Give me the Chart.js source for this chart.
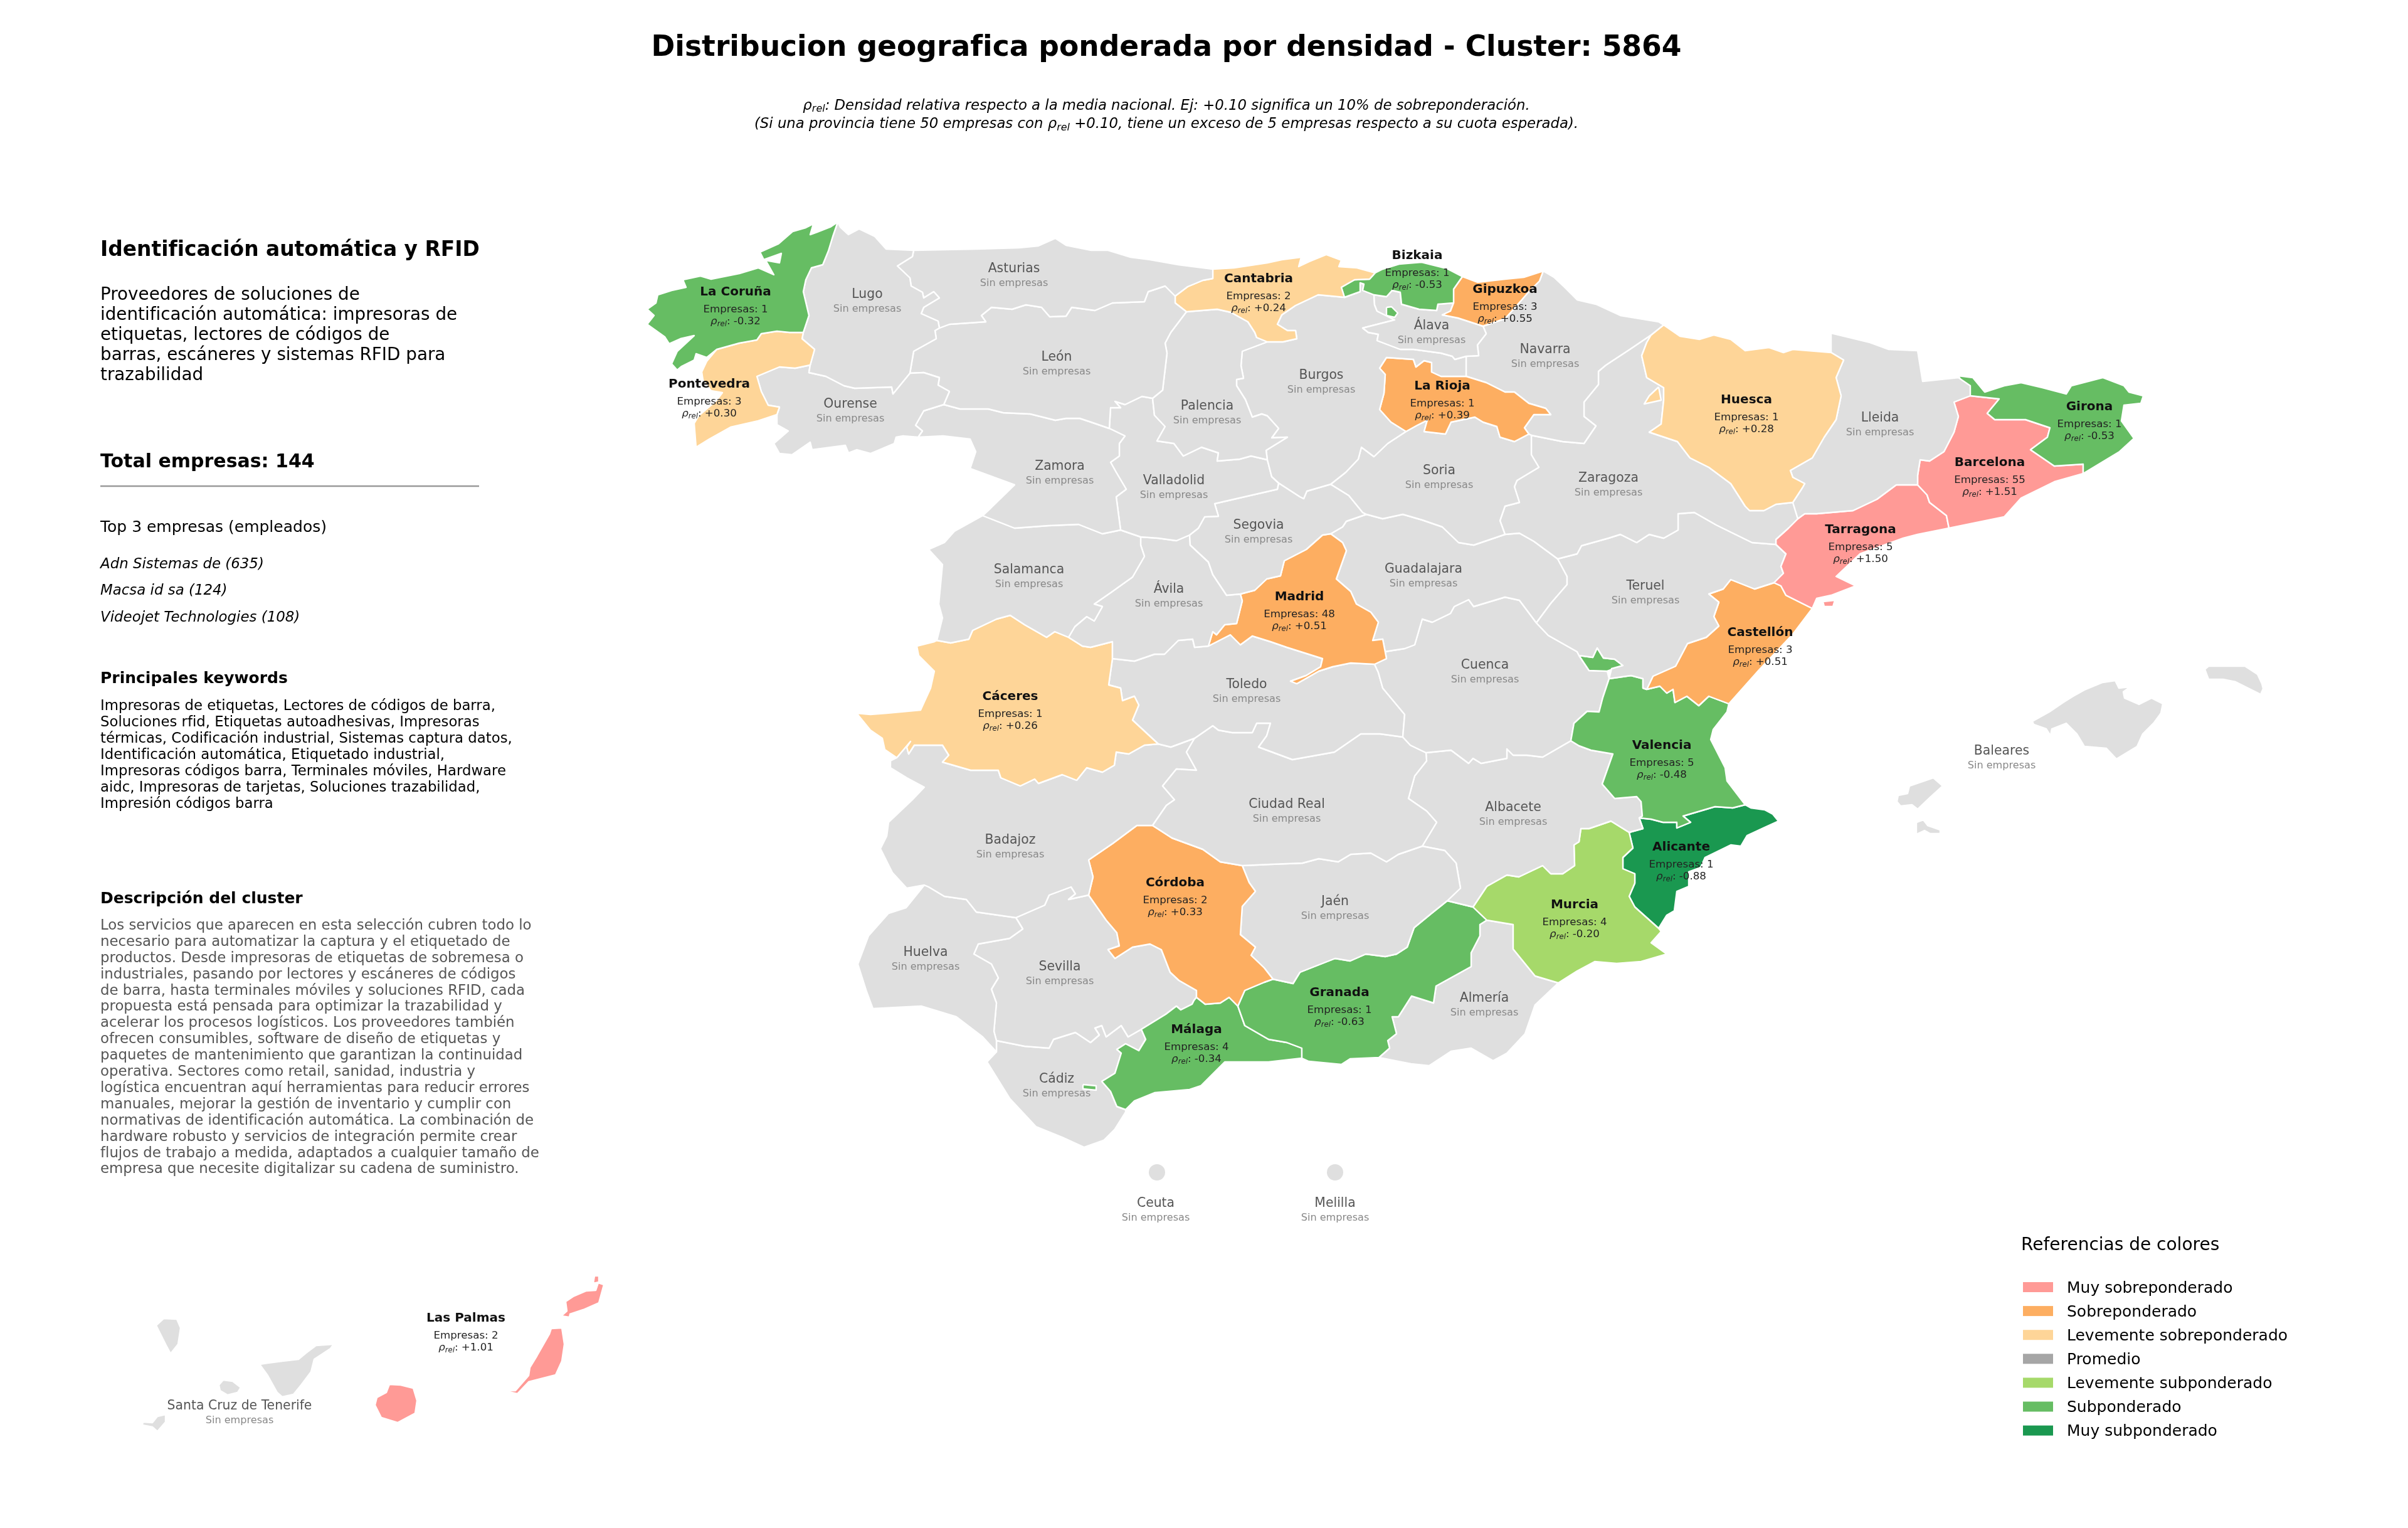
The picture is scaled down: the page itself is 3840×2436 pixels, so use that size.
<!DOCTYPE html>
<html lang="es"><head><meta charset="utf-8"><title>Distribucion geografica</title>
<style>html,body{margin:0;padding:0;background:#fff}canvas{display:block}</style>
<script src="https://cdn.jsdelivr.net/npm/chart.js@4/dist/chart.umd.min.js"></script>
</head><body><canvas id="c" width="3840" height="2436" style="width:3840px;height:2436px"></canvas>
<script>
// ---------- values ----------
const bandNames=['Muy sobreponderado','Sobreponderado','Levemente sobreponderado','Promedio','Levemente subponderado','Subponderado','Muy subponderado'];
const bandColors=['#ff9a96','#fdae61','#fed598','#a6a6a6','#a6d96a','#66bd63','#1a9850'];
const noData='#dfdfdf';
const provinceNames=['La Coruña','Pontevedra','Lugo','Ourense','Asturias','León','Zamora','Cantabria','Bizkaia','Gipuzkoa','Álava','Palencia','Burgos','La Rioja','Soria','Valladolid','Segovia','Navarra','Huesca','Lleida','Zaragoza','Girona','Barcelona','Tarragona','Teruel','Castellón','Valencia','Baleares','Salamanca','Ávila','Madrid','Guadalajara','Cuenca','Cáceres','Toledo','Ciudad Real','Badajoz','Córdoba','Jaén','Albacete','Murcia','Alicante','Granada','Almería','Málaga','Huelva','Sevilla','Cádiz','Ceuta','Melilla','Santa Cruz de Tenerife','Las Palmas'];
const provinceCompanies=[1,3,0,0,0,0,0,2,1,3,0,0,0,1,0,0,0,0,1,0,0,1,55,5,0,3,5,0,0,0,48,0,0,1,0,0,0,2,0,0,4,1,1,0,4,0,0,0,0,0,0,2];
const provinceRho=['-0.32','+0.30',null,null,null,null,null,'+0.24','-0.53','+0.55',null,null,null,'+0.39',null,null,null,null,'+0.28',null,null,'-0.53','+1.51','+1.50',null,'+0.51','-0.48',null,null,null,'+0.51',null,null,'+0.26',null,null,null,'+0.33',null,null,'-0.20','-0.88','-0.63',null,'-0.34',null,null,null,null,null,null,'+1.01'];
const provinceBand=[5,2,-1,-1,-1,-1,-1,2,5,1,-1,-1,-1,1,-1,-1,-1,-1,2,-1,-1,5,0,0,-1,1,5,-1,-1,-1,1,-1,-1,2,-1,-1,-1,1,-1,-1,4,6,5,-1,5,-1,-1,-1,-1,-1,-1,0];
const labelX=[1173,1131,1383,1356,1617,1685,1690,2007,2260,2400,2283,1925,2107,2300,2295,1872,2007,2464,2785,2998,2565,3332,3173,2967,2624,2807,2650,3192,1641,1864,2072,2270,2368,1611,1988,2052,1611,1874,2129,2413,2511,2681,2136,2367,1908,1476,1690,1685,1843,2129,382,743];
const labelY=[466,613,470,645,429,570,744,445,408,462,520,648,599,616,751,767,838,558,638,667,763,649,738,845,935,1009,1189,1198,909,940,952,908,1061,1111,1092,1283,1340,1408,1438,1288,1443,1351,1583,1592,1642,1519,1542,1721,1919,1919,2242,2102];
const legendTitle='Referencias de colores';
const mainTitle='Distribucion geografica ponderada por densidad - Cluster: 5864';
const subtitleLines=['ρ_rel: Densidad relativa respecto a la media nacional. Ej: +0.10 significa un 10% de sobreponderación.','(Si una provincia tiene 50 empresas con ρ_rel +0.10, tiene un exceso de 5 empresas respecto a su cuota esperada).'];
const panelHeading='Identificación automática y RFID';
const panelIntro=['Proveedores de soluciones de','identificación automática: impresoras de','etiquetas, lectores de códigos de','barras, escáneres y sistemas RFID para','trazabilidad'];
const panelTotal='Total empresas: 144';
const panelTopTitle='Top 3 empresas (empleados)';
const panelTop=['Adn Sistemas de (635)','Macsa id sa (124)','Videojet Technologies (108)'];
const panelKwTitle='Principales keywords';
const panelKw=['Impresoras de etiquetas, Lectores de códigos de barra,','Soluciones rfid, Etiquetas autoadhesivas, Impresoras','térmicas, Codificación industrial, Sistemas captura datos,','Identificación automática, Etiquetado industrial,','Impresoras códigos barra, Terminales móviles, Hardware','aidc, Impresoras de tarjetas, Soluciones trazabilidad,','Impresión códigos barra'];
const panelDescTitle='Descripción del cluster';
const panelDesc=['Los servicios que aparecen en esta selección cubren todo lo','necesario para automatizar la captura y el etiquetado de','productos. Desde impresoras de etiquetas de sobremesa o','industriales, pasando por lectores y escáneres de códigos','de barra, hasta terminales móviles y soluciones RFID, cada','propuesta está pensada para optimizar la trazabilidad y','acelerar los procesos logísticos. Los proveedores también','ofrecen consumibles, software de diseño de etiquetas y','paquetes de mantenimiento que garantizan la continuidad','operativa. Sectores como retail, sanidad, industria y','logística encuentran aquí herramientas para reducir errores','manuales, mejorar la gestión de inventario y cumplir con','normativas de identificación automática. La combinación de','hardware robusto y servicios de integración permite crear','flujos de trabajo a medida, adaptados a cualquier tamaño de','empresa que necesite digitalizar su cadena de suministro.'];

// ---------- province outlines: borders, in picture units ----------
const corLug=[1336,354,1328,377,1321,400,1312,422,1294,427,1285,446,1281,465,1290,503,1281,530];
const corPon=[1281,530,1259,530,1239,528,1214,532,1207,542,1179,547,1143,557];
const corCoast=[1143,557,1127,570,1110,564,1107,574,1087,584,1080,590,1071,580,1080,560,1107,535,1085,540,1067,548,1060,537,1032,517,1043,503,1032,493,1046,483,1049,470,1071,463,1094,458,1089,446,1117,440,1134,445,1179,436,1209,427,1234,438,1221,415,1243,419,1246,404,1218,414,1212,402,1241,389,1264,369,1285,363,1297,357,1292,374,1303,370,1324,362,1336,354];
const ponLug=[1281,530,1279,540,1299,557,1292,582];
const ponOur=[1292,582,1268,587,1243,585,1207,600,1214,624,1225,646,1243,649,1239,661];
const ponCoast=[1239,661,1209,671,1165,681,1131,700,1110,713,1107,675,1114,663,1143,638,1152,626,1134,623,1121,606,1119,593,1127,576,1143,557];
const lugOur=[1292,582,1290,594,1317,600,1346,615,1363,619,1422,617,1424,628];
const leonLug=[1451,595,1457,560,1493,540,1491,527,1498,523];
const lugCoast=[1336,354,1340,362,1353,374,1370,365,1395,377,1413,397,1457,399];
const lugAst=[1457,399,1455,409,1431,424,1451,443,1453,456,1471,466,1473,475,1489,465,1498,475,1473,490,1469,500,1496,512,1498,523];
const ourLeon=[1451,595,1473,594,1498,602,1496,614,1514,624,1505,645];
const ourZam=[1505,645,1473,655,1460,678,1471,687,1464,697];
const ourSouth=[1464,697,1440,695,1429,697,1426,707,1388,723,1366,717,1353,722,1348,710,1295,717,1292,705,1263,725,1243,723,1234,707,1257,687,1239,677,1239,661];
const astCoast=[1457,399,1558,397,1625,395,1656,392,1683,380,1700,391,1740,399,1767,399,1803,410,1834,414,1879,422,1934,429];
const astCant=[1934,429,1934,444,1918,447,1894,457,1874,472];
const astLeon=[1498,523,1514,517,1572,513,1565,503,1581,490,1614,493,1636,486,1661,490,1674,505,1700,504,1709,490,1746,495,1774,483,1825,481,1831,465,1858,456,1874,472];
const cantCoast=[1934,429,1968,427,2021,419,2044,414,2075,410,2071,425,2088,417,2115,406,2139,415,2135,425,2164,427,2193,435];
const cantBiz=[2193,435,2184,445,2160,446,2139,458,2144,474];
const cantBur=[2144,474,2102,470,2066,487,2044,502,2037,517,2053,527,2066,527,2068,540,2046,545,2021,545];
const cantPal=[2021,545,2004,538,2001,530,1990,513,1963,498,1941,493,1892,497];
const cantLeon=[1892,497,1874,483,1874,472];
const bizCoast=[2193,435,2205,429,2231,421,2267,418,2307,428,2332,441];
const bizGip=[2332,441,2318,461,2318,483];
const bizAla=[2318,483,2293,485,2291,495,2263,493,2235,485,2233,466,2220,463,2211,473,2191,470];
const bizBur=[2191,470,2173,463,2175,453,2169,451,2169,465,2144,474];
const bizSmall=[2211,490,2219,489,2229,499,2224,506,2211,503];
const gipCoast=[2332,441,2356,450,2400,445,2430,442,2461,432];
const gipNav=[2461,432,2455,448,2438,465,2425,480,2410,497,2400,508,2365,520];
const gipAla=[2365,520,2325,507,2300,502,2313,496,2318,483];
const alaNav=[2365,520,2370,532,2356,550,2358,567,2338,568];
const alaBur=[2338,568,2320,573,2316,568,2298,563,2254,557,2233,557,2196,543,2198,533,2182,530,2173,523,2224,510,2196,496,2192,486,2191,470];
const navRioV=[2338,568,2338,600];
const rioBurN=[2338,600,2298,600,2283,593,2283,578,2271,575,2258,585,2254,573,2211,570,2200,587,2209,597,2207,627,2200,653,2218,673,2242,688];
const rioNav=[2338,600,2370,610,2400,625,2415,625,2438,643,2465,651,2473,661,2446,661,2431,682,2438,692];
const rioSor=[2438,692,2415,704,2392,697,2387,680,2365,673,2352,665,2314,673,2305,692,2271,688,2276,670,2260,678,2242,688];
const burSor=[2242,688,2213,707,2191,728,2171,713,2166,732,2146,753,2122,772];
const burSeg=[2122,772,2084,783,2079,795,2073,792,2039,770];
const burVal=[2039,770,2028,760,2021,733];
const burPal=[2021,733,2019,718,2053,697,2028,698,2039,683,2021,663,2012,660,1997,665,1986,637,1972,615,1972,605,1983,603,1979,583,1981,560,2021,545];
const palLeon=[1892,497,1867,530,1858,547,1861,563,1854,622,1838,635];
const palVal=[1838,635,1841,662,1858,680,1845,703,1872,707,1887,727,1916,713,1943,722,1941,735,1977,732,1995,727,2021,733];
const leonVal=[1838,635,1821,632,1794,645,1778,640,1787,650,1771,650,1769,683];
const leonZam=[1769,683,1740,673,1722,667,1700,667,1683,670,1643,660,1600,658,1576,652,1531,652,1505,645];
const zamVal=[1769,683,1794,695,1785,707,1785,727,1771,737,1780,753,1796,780,1780,792,1785,830,1787,845];
const zamSal=[1787,845,1758,851,1720,836,1672,838,1618,842,1567,822];
const zamWest=[1567,822,1580,810,1618,773,1547,747,1556,720,1547,700,1504,695,1464,697];
const valSal=[1787,845,1819,856];
const valAvi=[1819,856,1847,858,1876,862,1897,853];
const valSeg=[1897,853,1911,842,1921,824,1943,823,1937,803,1963,797,2037,780,2039,770];
const salWest=[1567,822,1522,847,1506,865,1481,876,1503,900,1497,963,1503,985,1494,1021];
const salCac=[1494,1021,1516,1025,1545,1019,1551,1005,1589,987,1611,981,1634,996,1669,1016,1682,1007,1704,1016];
const salAvi=[1704,1016,1714,999,1733,983,1745,990,1758,967,1745,963,1771,945,1806,920,1825,887,1819,869,1819,856];
const aviSeg=[1897,853,1898,869,1927,896,1934,916,1956,949];
const madW=[1978,947,1981,958,1972,994,1953,996,1940,1012,1934,1007,1927,1030];
const aviTol=[1927,1030,1905,1032,1902,1019,1879,1021,1857,1043,1841,1043,1809,1054,1774,1050];
const aviCac=[1774,1050,1774,1023,1739,1032,1726,1030,1704,1016];
const segMad=[1978,947,2001,941,2020,923,2042,918,2048,894,2083,876,2109,853,2122,851];
const segGua=[2122,851,2141,840,2147,831,2179,820];
const segSor=[2179,820,2173,817,2151,790,2122,772];
const madGua=[2122,851,2141,865,2147,878,2131,923,2154,943,2163,963,2186,976,2198,992,2189,1021,2205,1019,2211,1050];
const madCue=[2211,1050,2192,1059];
const madTol=[2192,1059,2154,1057,2125,1063,2103,1070,2068,1090,2058,1086,2083,1077,2106,1063,2109,1050,2052,1032,2026,1023,1997,1014,1978,1028,1962,1012,1927,1030];
const tolCue=[2192,1059,2198,1072,2205,1097,2240,1139,2237,1175];
const tolCR=[2237,1175,2201,1170,2170,1170,2128,1199,2061,1211,2007,1191,2020,1173,2026,1153,2004,1153,1997,1168,1965,1168,1943,1164,1934,1157,1905,1177];
const tolBad=[1905,1177,1867,1191,1847,1186];
const cacTol=[1847,1186,1806,1148,1816,1124,1809,1110,1790,1117,1787,1097,1768,1092,1774,1050];
const tolSmall=[1854,1186,1870,1155,1892,1173,1889,1182,1867,1191];
const crE=[2237,1175,2249,1188,2274,1200];
const crAlb=[2274,1200,2275,1213,2256,1237,2246,1273,2275,1293,2291,1311,2268,1349];
const crJae=[2268,1349,2230,1362,2211,1374,2186,1360,2154,1362,2134,1374,2103,1369,2077,1376,2026,1378,1981,1380];
const corCR=[1981,1380,1946,1374,1918,1354,1869,1336,1838,1316];
const badCR=[1838,1316,1860,1284,1873,1275,1854,1253,1876,1226,1908,1228,1892,1199,1905,1177];
const cacWest=[1494,1021,1490,1023,1462,1030,1465,1045,1490,1070,1484,1097,1468,1132,1414,1137,1388,1139,1366,1137,1388,1164,1407,1177,1411,1195,1430,1208];
const cacBad=[1430,1208,1452,1182,1446,1191,1449,1202,1458,1188,1503,1188,1513,1204,1503,1215,1548,1228,1592,1228,1596,1240,1627,1253,1650,1242,1656,1249,1694,1235,1717,1244,1733,1224,1758,1231,1777,1220,1780,1199,1800,1202,1825,1188,1847,1186];
const badWest=[1430,1208,1420,1213,1420,1224,1446,1240,1474,1255,1455,1275,1417,1311,1414,1333,1404,1353,1423,1391,1446,1416,1474,1411];
const badHue=[1474,1411,1481,1414,1506,1429,1541,1434,1557,1454,1620,1463];
const badSev=[1620,1463,1666,1443,1673,1427,1708,1414,1715,1425,1704,1434,1736,1427];
const badCor=[1736,1427,1743,1398,1736,1371,1774,1345,1813,1316,1838,1316];
const corJae=[1981,1380,1992,1407,2002,1421,1981,1445,1978,1490,2002,1510,1995,1523,2016,1543,2030,1561];
const corGra=[2030,1561,2016,1566,1985,1579,1974,1604];
const corMal=[1974,1604,1960,1590,1946,1599,1922,1601,1908,1590];
const corSev=[1908,1590,1908,1579,1880,1563,1866,1550,1852,1514,1834,1505,1806,1510,1778,1528,1767,1514,1785,1508,1781,1487,1764,1467,1736,1427];
const jaeGra=[2030,1561,2062,1568,2073,1550,2129,1528,2153,1532,2178,1521,2209,1525,2227,1521,2244,1510,2255,1479,2283,1456,2308,1436];
const jaeAlb=[2308,1436,2329,1416,2322,1376,2304,1356,2268,1349];
const graAlb=[2308,1436,2349,1446];
const graMur=[2349,1446,2371,1467];
const graAlm=[2371,1467,2360,1474,2360,1492,2346,1519,2346,1541,2290,1572,2286,1599,2251,1588,2230,1621,2220,1621,2227,1648,2213,1659,2216,1671,2199,1686];
const graCoast=[2199,1686,2153,1688,2139,1697,2087,1692,2076,1687];
const graMal=[2076,1687,2076,1671,2052,1662,2023,1657,1985,1635,1974,1604];
const malSev=[1908,1590,1904,1595,1901,1601,1883,1610,1876,1604,1859,1617,1820,1641];
const malCad=[1820,1641,1827,1657,1816,1675,1795,1664,1781,1673,1788,1679,1778,1711,1757,1724,1771,1740,1781,1764,1795,1769];
const malCoast=[1795,1769,1809,1755,1841,1742,1897,1737,1915,1731,1953,1693,2023,1693,2076,1687];
const malSmall=[1727,1729,1748,1731,1748,1738,1727,1736];
const sevCad=[1820,1641,1799,1653,1788,1635,1764,1653,1757,1635,1746,1639,1753,1650,1739,1662,1715,1646,1680,1657,1673,1671,1634,1668,1589,1659];
const sevHue=[1589,1659,1585,1644,1589,1599,1581,1577,1592,1559,1581,1537,1553,1521,1560,1505,1610,1496,1631,1481,1620,1463];
const hueCoast=[1589,1677,1567,1653,1525,1621,1469,1604,1392,1608,1382,1581,1368,1537,1385,1492,1417,1456,1445,1447,1466,1421];
const cadCoast=[1795,1773,1778,1800,1760,1818,1729,1829,1694,1813,1652,1796,1610,1751,1592,1722,1574,1693,1589,1677];
const almCoast=[2448,1602,2432,1648,2403,1679,2381,1691,2346,1671,2314,1676,2279,1699,2250,1696];
const almMur=[2371,1467,2413,1474,2413,1513,2448,1556,2485,1567];
const murAlb=[2349,1446,2371,1413,2403,1395,2422,1398,2460,1380,2473,1393,2492,1393,2511,1380,2510,1347,2518,1342,2521,1321,2534,1321,2569,1309,2598,1327];
const murAli=[2598,1327,2604,1352,2588,1367,2588,1385,2607,1393,2607,1408,2598,1429,2607,1446,2645,1480];
const murCoast=[2645,1480,2649,1485,2633,1503,2658,1521,2617,1533,2578,1536,2543,1533,2515,1548,2485,1567];
const aliAlb=[2598,1327,2620,1321,2614,1304];
const aliVal=[2614,1304,2633,1306,2652,1311,2674,1311,2674,1320,2696,1311,2684,1301,2735,1286,2763,1288,2783,1283];
const aliCoast=[2783,1283,2792,1288,2814,1291,2827,1298,2836,1309,2814,1319,2786,1332,2776,1349,2760,1347,2719,1367,2712,1383,2693,1390,2693,1413,2674,1421,2670,1452,2658,1459,2645,1480];
const valAlb=[2614,1304,2619,1301,2617,1278,2610,1270,2575,1273,2555,1250,2572,1202,2537,1196,2518,1189,2505,1181];
const valCue=[2505,1181,2510,1153,2531,1134,2550,1135,2556,1112,2566,1082];
const valTer=[2566,1082,2601,1077,2620,1082,2620,1097,2626,1099];
const valCas=[2626,1099,2647,1094,2658,1105,2668,1099,2671,1120,2690,1110,2709,1125,2725,1110,2757,1122];
const valCoast=[2757,1122,2754,1135,2732,1163,2728,1179,2751,1224,2754,1245,2783,1283];
const valSmall=[2518,1045,2540,1048,2547,1033,2557,1049,2575,1051,2588,1061,2563,1070,2534,1069];
const casTer=[2626,1099,2636,1078,2672,1062,2691,1026,2721,1016,2741,998,2733,983,2741,960,2725,947,2748,939,2760,924,2798,939,2829,929];
const casTar=[2829,929,2840,934,2848,949,2890,970];
const casCoast=[2890,970,2859,1011,2806,1067,2757,1122];
const terTar=[2829,929,2844,914,2840,903,2848,883,2832,868];
const terZar=[2832,868,2794,865,2737,837,2702,817,2676,819,2676,845,2653,858,2630,852,2610,865,2584,852,2565,858,2522,870,2515,883,2484,891];
const terGua=[2484,891,2499,919,2499,932,2473,962,2450,993];
const terCue=[2450,993,2469,1013,2515,1039,2518,1045];
const terEncl=[2518,1045,2540,1048,2547,1033,2557,1049,2575,1051,2588,1061,2570,1066,2566,1082];
const guaSor=[2179,820,2205,827,2237,820,2268,829,2300,840,2326,865,2350,869,2400,852];
const guaZar=[2400,852,2423,850,2446,863,2484,891];
const guaCue=[2450,993,2423,957,2400,952,2350,967,2342,956,2319,967,2313,978,2284,992,2268,987,2256,1028,2240,1034,2208,1039,2211,1050];
const cueEncl=[2518,1045,2534,1069,2563,1070,2566,1082];
const cueAlb=[2505,1181,2460,1207,2435,1204,2413,1204,2403,1194,2403,1209,2362,1217,2349,1209,2342,1217,2314,1196,2274,1200];
const sorZar=[2438,692,2442,694,2442,725,2454,745,2419,766,2415,776,2423,801,2400,807,2392,830,2400,852];
const navCoast=[2461,432,2478,442,2495,458,2515,478,2545,485,2584,503,2645,513,2653,518];
const navZar=[2438,692,2442,694,2492,704,2526,707,2545,679,2526,664,2526,641,2549,613,2549,592,2561,582,2599,557,2633,534];
const husTop=[2633,534,2653,518];
const husCoast=[2653,518,2679,536,2710,541,2733,534,2760,541,2783,559,2821,554,2844,562,2859,557,2920,562];
const husLle=[2920,562,2940,574,2928,602,2936,631,2928,669,2909,697,2890,730,2855,750,2859,761,2878,771,2874,778,2859,801];
const husZar=[2859,801,2832,804,2813,814,2790,814,2783,807,2760,771,2725,745,2695,730,2675,704,2630,689,2649,676,2653,638,2653,618,2626,602,2618,567,2626,546,2633,534];
const husSmall=[2645,617,2649,638,2622,644,2630,631];
const zarLle=[2859,801,2867,827,2852,842,2832,860,2832,868];
const lleCoast=[2920,562,2920,531,2982,546,3012,557,3058,559,3066,608,3123,602,3142,615,3142,631];
const lleBar=[3142,631,3116,641,3123,664,3116,689,3100,720,3077,735,3062,733,3058,758,3058,773];
const lleTar=[3058,773,3024,773,2993,796,2955,814,2897,819,2878,819,2867,827];
const barGir=[3142,631,3188,636,3169,659,3181,669,3230,669,3269,682,3265,697,3238,717,3276,743,3322,740,3322,755];
const barCoast=[3322,755,3276,768,3223,794,3196,824,3108,842];
const barTar=[3108,842,3104,822,3077,801,3073,789,3058,773];
const girCoast=[3123,599,3146,602,3165,625,3196,615,3223,610,3257,618,3295,628,3303,615,3353,602,3387,615,3395,625,3418,631,3414,643,3387,646,3383,671,3403,699,3380,720,3322,755];
const tarCoast=[3058,852,3035,858,2966,883,2928,919,2959,934,2920,949,2897,954,2890,970];
const tarSmall=[2907,959,2926,957,2923,967,2909,967];
const laPalma=[261,2102,282,2103,288,2117,284,2143,272,2158,264,2143,249,2113];
const gomera=[356,2200,371,2202,384,2212,379,2220,363,2224,351,2217,349,2208];
const tenerife=[532,2143,527,2150,501,2167,496,2187,481,2207,468,2223,450,2227,442,2220,427,2193,414,2175,427,2173,450,2170,476,2167,488,2157,504,2145];
const hierro=[264,2255,264,2267,251,2282,243,2275,227,2272,228,2267,243,2268,251,2258];
const granCanaria=[621,2207,639,2208,659,2213,665,2233,662,2253,634,2268,608,2260,598,2240,601,2228,616,2220];
const fuerteventura=[879,2118,896,2117,900,2143,896,2170,886,2192,843,2203,825,2222,802,2217,822,2217,843,2193,845,2180,856,2162,876,2127];
const lanzarote=[935,2058,950,2057,954,2045,963,2048,955,2077,930,2088,909,2095,908,2100,895,2098,904,2090,902,2075,914,2067];
const graciosa=[948,2034,955,2034,955,2044,946,2046];
const mallorca=[3241,1150,3268,1135,3290,1120,3306,1110,3324,1100,3353,1088,3373,1085,3379,1097,3397,1095,3386,1103,3388,1113,3411,1123,3431,1113,3449,1122,3446,1137,3435,1152,3417,1170,3408,1190,3375,1210,3359,1193,3324,1190,3312,1170,3295,1153,3272,1162,3270,1173,3263,1162,3243,1155];
const menorca=[3516,1067,3522,1062,3580,1062,3600,1075,3607,1090,3609,1098,3605,1107,3565,1087,3545,1083,3522,1083];
const ibiza=[3027,1268,3042,1265,3045,1253,3083,1240,3098,1253,3076,1273,3058,1290,3049,1283,3031,1285,3025,1278];
const formentera=[3056,1311,3067,1307,3074,1316,3094,1323,3094,1329,3078,1329,3069,1324,3056,1330];
const cityDots=[[1845,1869],[2129,1869]];
const R=a=>{const o=[];for(let i=a.length-2;i>=0;i-=2)o.push(a[i],a[i+1]);return o;};
const provinceRings={
'La Coruña':[[...corLug,...corPon,...corCoast]],
'Pontevedra':[[...ponLug,...ponOur,...ponCoast,...R(corPon)]],
'Lugo':[[...lugCoast,...lugAst,...R(leonLug),...R(lugOur),...R(ponLug),...R(corLug)]],
'Ourense':[[...R(ponOur),...lugOur,...ourLeon,...ourZam,...ourSouth]],
'Asturias':[[...astCoast,...astCant,...R(astLeon),...R(lugAst)]],
'León':[[...astLeon,...R(cantLeon),...palLeon,...leonVal,...leonZam,...R(ourLeon),...leonLug]],
'Zamora':[[...R(leonZam),...zamVal,...zamSal,...zamWest,...R(ourZam)]],
'Cantabria':[[...cantCoast,...cantBiz,...cantBur,...cantPal,...cantLeon,...R(astCant)]],
'Bizkaia':[[...bizCoast,...bizGip,...bizAla,...bizBur,...R(cantBiz)],bizSmall],
'Gipuzkoa':[[...gipCoast,...gipNav,...gipAla,...R(bizGip)]],
'Álava':[[...R(bizAla),...R(gipAla),...alaNav,...alaBur]],
'Palencia':[[...R(cantPal),...R(burPal),...R(palVal),...R(palLeon)]],
'Burgos':[[...R(cantBur),...R(bizBur),...R(alaBur),...navRioV,...rioBurN,...burSor,...burSeg,...burVal,...burPal]],
'La Rioja':[[...rioNav,...rioSor,...R(rioBurN)]],
'Soria':[[...R(burSor),...R(rioSor),...sorZar,...R(guaSor),...segSor]],
'Valladolid':[[...R(leonVal),...palVal,...R(burVal),...R(valSeg),...R(valAvi),...R(valSal),...R(zamVal)]],
'Segovia':[[...valSeg,...R(burSeg),...R(segSor),...R(segGua),...R(segMad),...R(aviSeg)]],
'Navarra':[[...navCoast,...R(husTop),...R(navZar),...R(rioNav),...R(navRioV),...R(alaNav),...R(gipNav)]],
'Huesca':[[...husCoast,...husLle,...husZar,...husTop],husSmall],
'Lleida':[[...lleCoast,...lleBar,...lleTar,...R(zarLle.slice(0,4)),...R(husLle)]],
'Zaragoza':[[...navZar,...R(husZar),...zarLle,...terZar,...R(guaZar),...R(sorZar)]],
'Girona':[[...girCoast,...R(barGir)]],
'Barcelona':[[...barGir,...barCoast,...barTar,...R(lleBar)]],
'Tarragona':[[...R(lleTar),...R(barTar),...tarCoast,...R(casTar),...terTar,...R(zarLle.slice(2))],tarSmall],
'Teruel':[[...R(casTer),...R(valTer),...R(terEncl),...R(terCue),...R(terGua),...R(terZar),...R(terTar)]],
'Castellón':[[...casTer,...casTar,...casCoast,...R(valCas)]],
'Valencia':[[...valTer,...valCas,...valCoast,...R(aliVal),...valAlb,...valCue],valSmall],
'Baleares':[mallorca,menorca,ibiza,formentera],
'Salamanca':[[...salWest,...salCac,...salAvi,...R(valSal),...zamSal]],
'Ávila':[[...salAvi,...valAvi,...aviSeg,...madW,...aviTol,...aviCac]],
'Madrid':[[...segMad,...madGua,...madCue,...madTol,...R(madW)]],
'Guadalajara':[[...segGua,...guaSor,...guaZar,...terGua,...guaCue,...R(madGua)]],
'Cuenca':[[...R(guaCue),...terCue,...cueEncl,...R(valCue),...cueAlb,...R(crE),...R(tolCue),...R(madCue)]],
'Cáceres':[[...salCac,...R(aviCac),...R(cacTol),...R(cacBad),...R(cacWest)]],
'Toledo':[[...R(aviTol),...R(madTol),...tolCue,...tolCR,...tolBad,...cacTol],tolSmall],
'Ciudad Real':[[...R(tolCR),...crE,...crAlb,...crJae,...corCR,...badCR]],
'Badajoz':[[...cacBad,...R(tolBad),...R(badCR),...R(badCor),...R(badSev),...R(badHue),...R(badWest)]],
'Córdoba':[[...R(corCR),...corJae,...corGra,...corMal,...corSev,...badCor]],
'Jaén':[[...R(crJae),...R(jaeAlb),...R(jaeGra),...R(corJae)]],
'Albacete':[[...R(cueAlb),...R(valAlb),...R(aliAlb),...R(murAlb),...R(graAlb),...jaeAlb,...R(crAlb)]],
'Murcia':[[...murAlb,...murAli,...murCoast,...R(almMur),...R(graMur)]],
'Alicante':[[...aliAlb,...aliVal,...aliCoast,...R(murAli)]],
'Granada':[[...graAlb,...graMur,...graAlm,...graCoast,...graMal,...R(corGra),...jaeGra]],
'Almería':[[...R(graAlm),...almMur,...almCoast]],
'Málaga':[[...graMal,...corMal,...malSev,...malCad,...malCoast],malSmall],
'Huelva':[[...badHue,...R(sevHue),...hueCoast]],
'Sevilla':[[...badSev,...R(corSev),...malSev,...sevCad,...sevHue]],
'Cádiz':[[...R(sevCad),...malCad,...cadCoast]],
'Santa Cruz de Tenerife':[laPalma,gomera,tenerife,hierro],
'Las Palmas':[granCanaria,fuerteventura,lanzarote,graciosa]
};

// ---------- datasets ----------
const toPts=f=>{const p=[];for(let i=0;i<f.length;i+=2)p.push({x:f[i],y:f[i+1]});p.push(p[0]);return p;};
const colorOf=i=>provinceBand[i]<0?noData:bandColors[provinceBand[i]];
const datasets=[];
provinceNames.forEach((name,i)=>{(provinceRings[name]||[]).forEach(ring=>{
  datasets.push({label:name,data:toPts(ring),showLine:true,fill:'shape',tension:0,backgroundColor:colorOf(i),borderColor:'#ffffff',borderWidth:2.4,pointRadius:0,pointHoverRadius:0,borderJoinStyle:'round'});
});});
datasets.push({label:'Ceuta y Melilla',data:cityDots.map(d=>({x:d[0],y:d[1]})),showLine:false,backgroundColor:noData,borderWidth:0,pointRadius:13,pointHoverRadius:13});
datasets.push({label:'separador',data:[{x:160,y:775},{x:764,y:775}],showLine:true,fill:false,borderColor:'#999999',borderWidth:2.6,pointRadius:0});

// ---------- text ----------
const FF='"DejaVu Sans"';
function runs(ctx,text,x,y,size,color,opt){
  opt=opt||{};const it=opt.italic?'italic ':'';const w=opt.bold?'bold ':'';
  const parts=text.split(/(ρ_rel)/);const seq=[];let tot=0;
  parts.forEach(p=>{if(!p)return;
    if(p==='ρ_rel'){
      ctx.font=`italic ${size}px ${FF}`;const a=ctx.measureText('ρ').width;
      ctx.font=`italic ${size*0.7}px ${FF}`;const b=ctx.measureText('rel').width;
      seq.push({k:'r',a,b});tot+=a+b;
    }else{ctx.font=`${it}${w}${size}px ${FF}`;const t=ctx.measureText(p).width;seq.push({k:'t',p,t});tot+=t;}
  });
  let cx=opt.left?x:x-tot/2;
  ctx.fillStyle=color;ctx.textBaseline='middle';ctx.textAlign='left';
  seq.forEach(s=>{
    if(s.k==='r'){ctx.font=`italic ${size}px ${FF}`;ctx.fillText('ρ',cx,y);cx+=s.a;
      ctx.font=`italic ${size*0.7}px ${FF}`;ctx.fillText('rel',cx,y+size*0.22);cx+=s.b;}
    else{ctx.font=`${it}${w}${size}px ${FF}`;ctx.fillText(s.p,cx,y);cx+=s.t;}
  });
}
const textPlugin={id:'texts',afterDatasetsDraw(chart){
  const ctx=chart.ctx,sx=chart.scales.x,sy=chart.scales.y;const X=v=>sx.getPixelForValue(v),Y=v=>sy.getPixelForValue(v);
  ctx.save();
  runs(ctx,mainTitle,X(1860),Y(77),45.6,'#000',{bold:true});
  subtitleLines.forEach((l,i)=>runs(ctx,l,X(1860),Y(169+i*29.5),22.8,'#000',{italic:true}));
  provinceNames.forEach((n,i)=>{
    const x=X(labelX[i]),y=labelY[i];
    if(provinceCompanies[i]>0){
      runs(ctx,n,x,Y(y),20,'#111',{bold:true});
      runs(ctx,'Empresas: '+provinceCompanies[i],x,Y(y+28),16.67,'#222');
      runs(ctx,'ρ_rel: '+provinceRho[i],x,Y(y+47),16.67,'#222');
    }else{
      runs(ctx,n,x,Y(y),20.4,'#555');
      runs(ctx,'Sin empresas',x,Y(y+23),16.1,'#888');
    }
  });
  const L=160;
  runs(ctx,panelHeading,X(L),Y(399),32.9,'#000',{bold:true,left:true});
  panelIntro.forEach((l,i)=>runs(ctx,l,X(L),Y(471+i*32),27.8,'#000',{left:true}));
  runs(ctx,panelTotal,X(L),Y(737),30,'#000',{bold:true,left:true});
  runs(ctx,panelTopTitle,X(L),Y(841),25,'#000',{left:true});
  panelTop.forEach((l,i)=>runs(ctx,l,X(L),Y(900+i*42.5),22.9,'#000',{italic:true,left:true}));
  runs(ctx,panelKwTitle,X(L),Y(1082),25,'#000',{bold:true,left:true});
  panelKw.forEach((l,i)=>runs(ctx,l,X(L),Y(1126+i*26),22.8,'#000',{left:true}));
  runs(ctx,panelDescTitle,X(L),Y(1433),25,'#000',{bold:true,left:true});
  panelDesc.forEach((l,i)=>runs(ctx,l,X(L),Y(1476+i*25.9),22.85,'#555',{left:true}));
  runs(ctx,legendTitle,X(3223),Y(1986),28,'#000',{left:true});
  bandNames.forEach((b,i)=>{
    const yc=2052+i*38.1;
    ctx.fillStyle=bandColors[i];ctx.fillRect(X(3226),Y(yc-8),X(3274)-X(3226),Y(yc+8)-Y(yc-8));
    runs(ctx,b,X(3296),Y(yc+2),25,'#000',{left:true});
  });
  ctx.restore();
}};
new Chart(document.getElementById('c'),{type:'scatter',data:{datasets},plugins:[textPlugin],options:{
  responsive:false,animation:false,devicePixelRatio:1,events:[],clip:false,
  layout:{padding:0,autoPadding:false},
  plugins:{legend:{display:false},tooltip:{enabled:false},title:{display:false},filler:{propagate:false}},
  scales:{x:{type:'linear',min:0,max:3840,display:false},y:{type:'linear',min:0,max:2436,reverse:true,display:false}}
}});
</script></body></html>
